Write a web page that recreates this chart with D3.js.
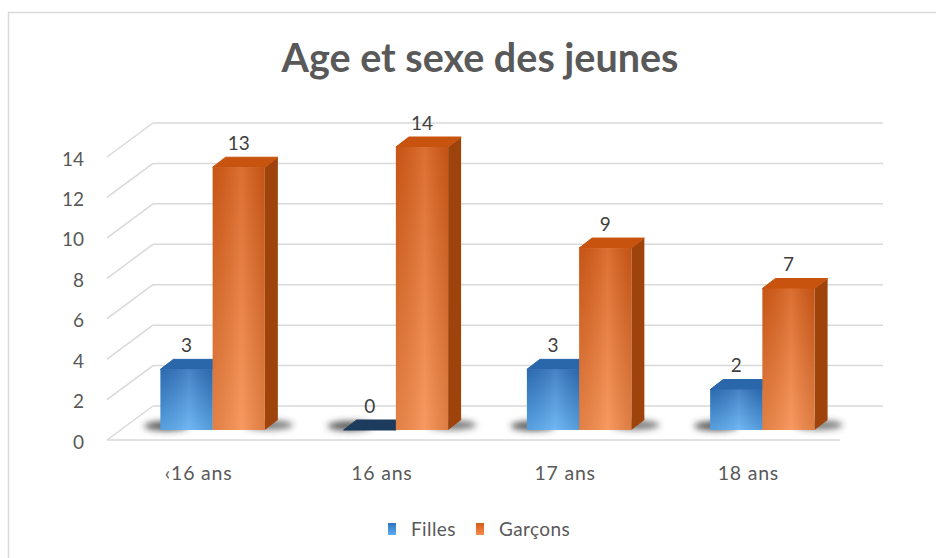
<!DOCTYPE html>
<html>
<head>
<meta charset="utf-8">
<script src="https://cdn.jsdelivr.net/npm/d3@7"></script>
<style>
  body { margin: 0; background: #fff; }
  svg { display: block; }
  text { font-family: Lato, "Open Sans", sans-serif; }
</style>
</head>
<body>
<svg width="936" height="558"></svg>
<script>
// data
var categories = ["‹16 ans", "16 ans", "17 ans", "18 ans"];
var seriesNames = ["Filles", "Garçons"];
var filles = [3, 0, 3, 2];
var garcons = [13, 14, 9, 7];
var yTicks = [0, 2, 4, 6, 8, 10, 12, 14];

var seriesValues = {"Filles": filles, "Garçons": garcons};
var seriesColor = {
	"Filles": {light: "#5eaef2", dark: "#2f72bd", top: "#2a66aa", side: "#1f4f85", flat: "#1d3b5c"},
	"Garçons": {light: "#f68c4c", dark: "#d75c17", top: "#c7530f", side: "#9f430c", flat: "#c7530f"}
};

var svg = d3.select("svg");

// chart frame
svg.append("rect")
	.attr("x", 8.5).attr("y", 12.5)
	.attr("width", 960).attr("height", 600)
	.attr("fill", "#fff").attr("stroke", "#d9d9d9").attr("stroke-width", 1.5);

// 3d geometry: front plane scales + depth vector
var depth = {dx: 46, dy: -34};
var x0 = d3.scaleBand().domain(categories).range([107, 840]).paddingInner(0.43).paddingOuter(0.215);
var x1 = d3.scaleBand().domain(seriesNames).range([0, x0.bandwidth()]);
var y = d3.scaleLinear().domain([0, 14]).range([440, 157]);

// bars sit a bit behind the front edge
var barShift = {dx: 14, dy: -10};
var barDepth = {dx: 13, dy: -10};

var defs = svg.append("defs");
seriesNames.forEach(function(s, i) {
	var g = defs.append("linearGradient").attr("id", "front" + i)
		.attr("x1", 0).attr("y1", 0).attr("x2", 0).attr("y2", 1);
	g.append("stop").attr("offset", "0%").attr("stop-color", seriesColor[s].dark);
	g.append("stop").attr("offset", "100%").attr("stop-color", seriesColor[s].light);
	var h = defs.append("linearGradient").attr("id", "sheen" + i)
		.attr("x1", 0).attr("y1", 0).attr("x2", 1).attr("y2", 0);
	h.append("stop").attr("offset", "0%").attr("stop-color", "#000").attr("stop-opacity", 0.08);
	h.append("stop").attr("offset", "55%").attr("stop-color", "#fff").attr("stop-opacity", 0.12);
	h.append("stop").attr("offset", "100%").attr("stop-color", "#000").attr("stop-opacity", 0.1);
});
defs.append("filter").attr("id", "blur").attr("x", "-50%").attr("y", "-100%").attr("width", "200%").attr("height", "300%")
	.append("feGaussianBlur").attr("stdDeviation", 3);

// gridlines: back wall and left wall
var grid = svg.append("g").attr("stroke", "#d9d9d9").attr("stroke-width", 1.5).attr("fill", "none");
grid.selectAll("line.back").data(yTicks).enter().append("line").attr("class", "back")
	.attr("x1", 107 + depth.dx).attr("x2", 883)
	.attr("y1", function(d) {return y(d) + depth.dy})
	.attr("y2", function(d) {return y(d) + depth.dy});
grid.selectAll("line.wall").data(yTicks).enter().append("line").attr("class", "wall")
	.attr("x1", 107).attr("x2", 107 + depth.dx)
	.attr("y1", function(d) {return y(d)})
	.attr("y2", function(d) {return y(d) + depth.dy});
grid.append("line")
	.attr("x1", 107).attr("x2", 840)
	.attr("y1", y(0)).attr("y2", y(0));

// flat list of bars
var bars = [];
categories.forEach(function(c, ci) {
	seriesNames.forEach(function(s, si) {
		bars.push({cat: c, series: s, si: si, value: seriesValues[s][ci]});
	});
});

function bx(d) {return x0(d.cat) + x1(d.series) + barShift.dx}
function byTop(d) {return y(d.value) + barShift.dy}
var base = y(0) + barShift.dy;
var w = x1.bandwidth();

// floor shadows under each cluster
var shadow = svg.append("g").attr("fill", "#3a3a3a").attr("filter", "url(#blur)");
shadow.selectAll("ellipse.l").data(categories).enter().append("ellipse").attr("class", "l")
	.attr("cx", function(c) {return x0(c) + barShift.dx + 6})
	.attr("cy", base - 4)
	.attr("rx", 22).attr("ry", 5)
	.attr("opacity", 0.8);
shadow.selectAll("ellipse.r").data(categories).enter().append("ellipse").attr("class", "r")
	.attr("cx", function(c) {return x0(c) + barShift.dx + x0.bandwidth() + 4})
	.attr("cy", base - 5)
	.attr("rx", 24).attr("ry", 5)
	.attr("opacity", 0.65);

var barG = svg.append("g").selectAll("g").data(bars).enter().append("g");

// side face
barG.filter(function(d) {return d.value > 0}).append("polygon")
	.attr("fill", function(d) {return seriesColor[d.series].side})
	.attr("points", function(d) {
		var x = bx(d) + w, t = byTop(d);
		return [[x, t], [x + barDepth.dx, t + barDepth.dy], [x + barDepth.dx, base + barDepth.dy], [x, base]].join(" ");
	});
// top face
barG.append("polygon")
	.attr("fill", function(d) {return d.value > 0 ? seriesColor[d.series].top : seriesColor[d.series].flat})
	.attr("stroke", function(d) {return d.value > 0 ? seriesColor[d.series].top : seriesColor[d.series].flat})
	.attr("stroke-linejoin", "round")
	.attr("points", function(d) {
		var x = bx(d), t = byTop(d);
		return [[x, t], [x + w, t], [x + w + barDepth.dx, t + barDepth.dy], [x + barDepth.dx, t + barDepth.dy]].join(" ");
	});
// front face
barG.filter(function(d) {return d.value > 0}).append("rect")
	.attr("x", bx).attr("y", byTop)
	.attr("width", w)
	.attr("height", function(d) {return base - byTop(d)})
	.attr("fill", function(d) {return "url(#front" + d.si + ")"});
barG.filter(function(d) {return d.value > 0}).append("rect")
	.attr("x", bx).attr("y", byTop)
	.attr("width", w)
	.attr("height", function(d) {return base - byTop(d)})
	.attr("fill", function(d) {return "url(#sheen" + d.si + ")"});

// data labels
svg.append("g").selectAll("text").data(bars).enter().append("text")
	.attr("x", function(d) {return bx(d) + w / 2})
	.attr("y", function(d) {return byTop(d) - 24})
	.attr("dy", "0.35em")
	.attr("text-anchor", "middle")
	.attr("font-size", 19)
	.attr("fill", "#404040")
	.text(function(d) {return d.value});

// value axis (front left edge)
var yAxis = svg.append("g").attr("transform", "translate(84,2)")
	.call(d3.axisLeft(y).tickValues(yTicks).tickSize(0).tickPadding(0));
yAxis.select(".domain").remove();
yAxis.selectAll("text").attr("font-size", 19).attr("fill", "#595959").style("font-family", "Lato, sans-serif");

// category axis
var xAxis = svg.append("g").attr("transform", "translate(0,466)")
	.call(d3.axisBottom(x0).tickSize(0).tickPadding(0));
xAxis.select(".domain").remove();
xAxis.selectAll("text").attr("font-size", 19.5).attr("letter-spacing", 0.8)
	.attr("fill", "#595959").style("font-family", "Lato, sans-serif");

// title
svg.append("text")
	.attr("x", 480).attr("y", 72)
	.attr("text-anchor", "middle")
	.attr("font-size", 39.5).attr("font-weight", "bold")
	.attr("fill", "#595959")
	.text("Age et sexe des jeunes");

// legend
var legendX = {"Filles": 388, "Garçons": 476};
var legend = svg.append("g").selectAll("g").data(seriesNames).enter().append("g")
	.attr("transform", function(s) {return "translate(" + legendX[s] + ",523)"});
legend.append("rect")
	.attr("width", 8).attr("height", 12)
	.attr("fill", function(s, i) {return "url(#front" + i + ")"});
legend.append("text")
	.attr("x", 23).attr("y", 6).attr("dy", "0.35em")
	.attr("font-size", 19).attr("letter-spacing", 0.4).attr("fill", "#595959")
	.text(function(s) {return s});
</script>
</body>
</html>
